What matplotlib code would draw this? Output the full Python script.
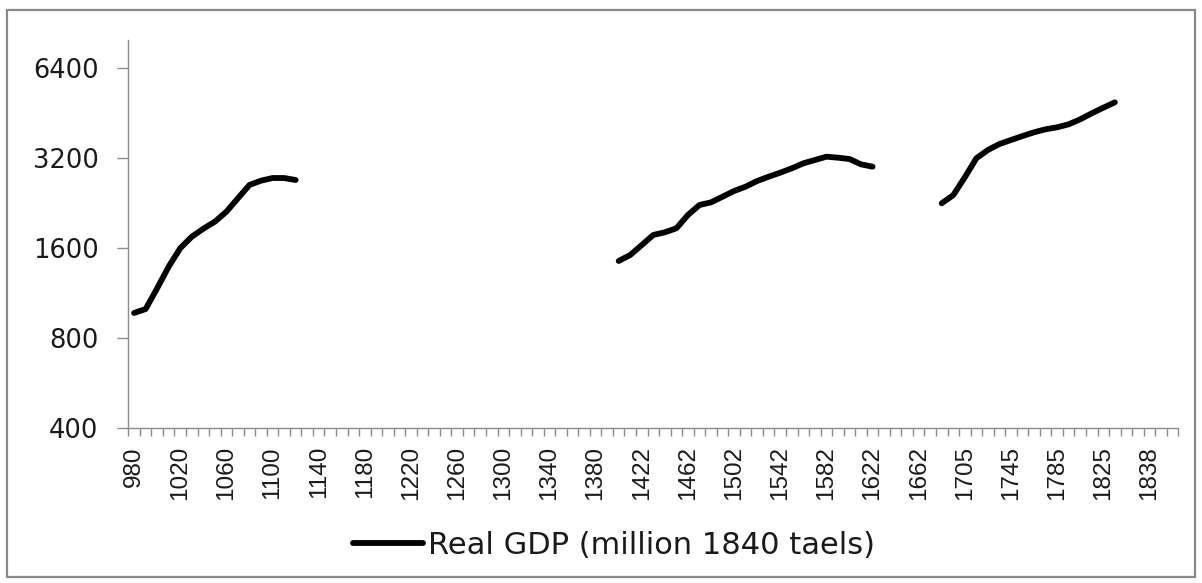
import matplotlib
matplotlib.use("Agg")
import matplotlib.pyplot as plt
import numpy as np
from matplotlib.patches import Rectangle
from matplotlib.ticker import FixedLocator, FixedFormatter, NullFormatter

# ---- data ----
cat_years = [980, 990, 1000, 1010, 1020, 1030, 1040, 1050, 1060, 1070, 1080, 1090,
             1100, 1110, 1120, 1130, 1140, 1150, 1160, 1170, 1180, 1190, 1200, 1210,
             1220, 1230, 1240, 1250, 1260, 1270, 1280, 1290, 1300, 1310, 1320, 1330,
             1340, 1350, 1360, 1370, 1380, 1390, 1402, 1412, 1422, 1432, 1442, 1452,
             1462, 1472, 1482, 1492, 1502, 1512, 1522, 1532, 1542, 1552, 1562, 1572,
             1582, 1592, 1602, 1612, 1622, 1632, 1642, 1652, 1662, 1675, 1685, 1695,
             1705, 1715, 1725, 1735, 1745, 1755, 1765, 1775, 1785, 1795, 1805, 1815,
             1825, 1835, 1836, 1837, 1838, 1839, 1840]

song_years = [980, 990, 1000, 1010, 1020, 1030, 1040, 1050, 1060, 1070, 1080, 1090,
              1100, 1110, 1120]
song_gdp = [970, 1000, 1173, 1386, 1597, 1745, 1856, 1959, 2116, 2346, 2600, 2687,
            2743, 2743, 2701]

ming_years = [1402, 1412, 1422, 1432, 1442, 1452, 1462, 1472, 1482, 1492, 1502, 1512,
              1522, 1532, 1542, 1552, 1562, 1572, 1582, 1592, 1602, 1612, 1622]
ming_gdp = [1448, 1516, 1637, 1769, 1806, 1862, 2063, 2228, 2274, 2375, 2482, 2566,
            2681, 2771, 2858, 2955, 3071, 3151, 3232, 3208, 3175, 3048, 2993]

qing_years = [1685, 1695, 1705, 1715, 1725, 1735, 1745, 1755, 1765, 1775, 1785, 1795,
              1805, 1815, 1825, 1835]
qing_gdp = [2258, 2406, 2758, 3193, 3404, 3564, 3676, 3790, 3900, 3993, 4053, 4148,
            4311, 4515, 4714, 4913]

y_ticks = [400, 800, 1600, 3200, 6400]
series_label = "Real GDP (million 1840 taels)"

# ---- build series on categorical axis ----
n = len(cat_years)
values = np.full(n, np.nan)
for yrs, vals in ((song_years, song_gdp), (ming_years, ming_gdp), (qing_years, qing_gdp)):
    for yr, v in zip(yrs, vals):
        values[cat_years.index(yr)] = v
xs = np.arange(n)

W, H = 1202, 583
fig = plt.figure(figsize=(W / 100, H / 100), dpi=100)
fig.patch.set_facecolor("white")

# outer chart border
fig.patches.append(Rectangle((7 / W, 1 - 577 / H), (1195 - 7) / W, (577 - 10) / H,
                             transform=fig.transFigure, fill=False,
                             edgecolor="#888888", linewidth=1.6))

ax = fig.add_axes([128.3 / W, 1 - 428 / H, 1050 / W, 388 / H])
ax.plot(xs, values, color="black", linewidth=4.2, solid_capstyle="round",
        solid_joinstyle="round", label=series_label)

ax.set_yscale("log", base=2)
ax.set_ylim(400, 400 * 2 ** (388 / 90))
ax.set_xlim(-0.5, n - 0.5)

ax.yaxis.set_major_locator(FixedLocator(y_ticks))
ax.yaxis.set_major_formatter(FixedFormatter([str(t) for t in y_ticks]))
ax.yaxis.set_minor_locator(FixedLocator([]))
ax.yaxis.set_minor_formatter(NullFormatter())

lab_idx = list(range(0, n, 4))
ax.xaxis.set_major_locator(FixedLocator(lab_idx))
ax.xaxis.set_major_formatter(FixedFormatter([str(cat_years[i]) for i in lab_idx]))
ax.xaxis.set_minor_locator(FixedLocator(np.arange(n + 1) - 0.5))

axis_col = "#8c8c8c"
for s in ("top", "right"):
    ax.spines[s].set_visible(False)
for s in ("left", "bottom"):
    ax.spines[s].set_color(axis_col)
    ax.spines[s].set_linewidth(1.0)

ax.tick_params(axis="y", which="major", length=8, width=1.0, color=axis_col,
               pad=13.5, labelsize=18.5, labelcolor="#1a1a1a")
ax.tick_params(axis="x", which="major", length=0, pad=13,
               labelsize=17.5, labelcolor="#1a1a1a", labelrotation=90)
ax.tick_params(axis="x", which="minor", length=6, width=1.0, color=axis_col)
for lab in ax.get_yticklabels():
    lab.set_fontfamily("DejaVu Sans")
for lab in ax.get_xticklabels():
    lab.set_fontfamily("Liberation Sans")
    lab.set_verticalalignment("top")
    lab.set_horizontalalignment("center")

leg = fig.legend(loc="center", bbox_to_anchor=(614 / W, 1 - 545 / H),
                 frameon=False, handlelength=2.3, handletextpad=0.15,
                 prop={"family": "DejaVu Sans", "size": 22})
for t in leg.get_texts():
    t.set_color("#1a1a1a")

fig.savefig("out.png", dpi=100, facecolor="white")
